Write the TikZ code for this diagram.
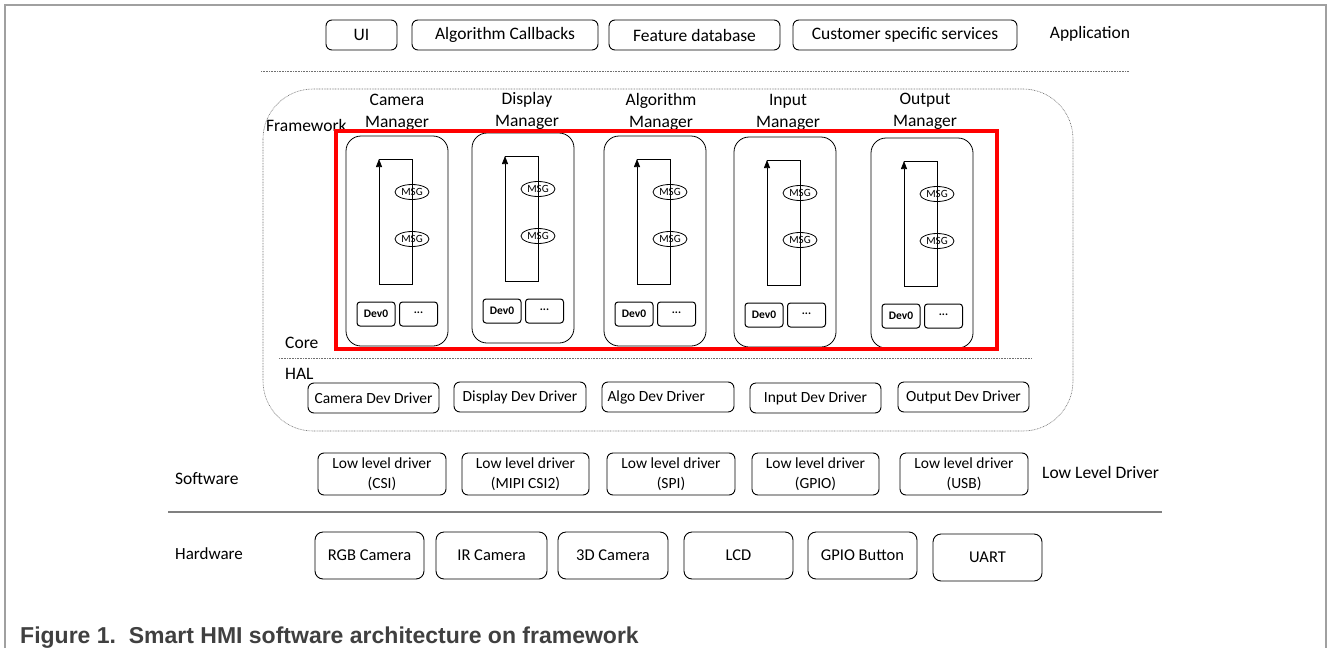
\documentclass[tikz,border=0pt]{standalone}
\usepackage{fontspec}
\setmainfont{Carlito}
\newfontfamily\capfont{Liberation Sans}
\usetikzlibrary{shapes.geometric,arrows.meta}
\definecolor{framegray}{HTML}{A0A0A0}
\definecolor{dotgray}{HTML}{707070}
\definecolor{capgray}{HTML}{404040}
\definecolor{hmired}{HTML}{FF0000}
\definecolor{rulegray}{HTML}{808080}
\newcommand\myfA{\fontsize{17.5}{22}\selectfont}
\newcommand\myfB{\fontsize{15.5}{20}\selectfont}
\newcommand\myfC{\fontsize{11}{13}\selectfont}
\newcommand\myfD{\fontsize{16.5}{20}\selectfont}
\newcommand\myfE{\bfseries\fontsize{11.5}{13}\selectfont}
\tikzset{
  box/.style={draw=black, line width=0.9pt, rounded corners=6pt, inner sep=0pt, align=center},
  appbox/.style={box, font=\myfA, minimum height=30pt},
  halbox/.style={box, font=\myfB, minimum height=30pt},
  llbox/.style={box, font=\myfB, minimum height=42pt, minimum width=128pt},
  hwbox/.style={box, rounded corners=8pt, font=\myfD, minimum height=47pt, minimum width=109pt},
  lbl/.style={font=\myfA, inner sep=0pt},
  modbox/.style={draw=black, line width=0.8pt, rounded corners=15pt},
  loopline/.style={draw=black, line width=0.7pt},
  looptip/.style={-{Triangle[length=8pt, width=6pt]}},
  msgnode/.style={ellipse, draw=black, line width=0.8pt, minimum width=34pt, minimum height=15pt, inner sep=0pt, font=\myfC},
  devnode/.style={draw=black, line width=1pt, rounded corners=3pt, minimum width=38pt, minimum height=24pt, inner sep=0pt, font=\myfE},
  dotline/.style={draw=dotgray, line width=0.6pt, dash pattern=on 0.8pt off 0.8pt}
}
\begin{document}
\begin{tikzpicture}[x=1pt, y=-1pt]
\useasboundingbox (0,0) rectangle (1328,648);
% outer frame
\coordinate (fbl) at (5,648);
\coordinate (ftl) at (5,5);
\coordinate (ftr) at (1326,5);
\coordinate (fbr) at (1326,648);
\draw[framegray, line width=1.5pt] (fbl) -- (ftl) -- (ftr) -- (fbr);

% application row
\node[appbox, minimum width=71pt] (ui) at (361.5,35) {UI};
\node[appbox, minimum width=186pt] (algcb) at (505,35) {Algorithm Callbacks};
\node[appbox, minimum width=171pt] (featdb) at (694.5,35) {Feature database};
\node[appbox, minimum width=224pt] (cust) at (905,35) {Customer specific services};
\node[lbl, anchor=base] (app) at (1090,38) {Application};

% dotted separator
\coordinate (d1a) at (261,71);
\coordinate (d1b) at (1129,71);
\draw[dotline] (d1a) -- (d1b);

% framework box
\draw[dotline, rounded corners=50pt] (263,89) rectangle (1073,431);
\node[lbl, anchor=base west] (fw) at (266,131) {Framework};

% manager labels
\node[lbl, align=center] (camlbl) at (397,112) {Camera\\Manager};
\node[lbl, align=center] (displbl) at (527,111) {Display\\Manager};
\node[lbl, align=center] (alglbl) at (661,112) {Algorithm\\Manager};
\node[lbl, align=center] (inlbl) at (788,112) {Input\\Manager};
\node[lbl, align=center] (outlbl) at (925,111) {Output\\Manager};

% managers
\foreach \nm/\mx/\my in {cam/346/136, disp/472/133, alg/604/136, inp/734/137, outp/871/138}{
  \draw[modbox] (\mx,\my) rectangle ++(102,210);
  \node[msgnode] (\nm m1) at (\mx+66,\my+56) {MSG};
  \node[msgnode] (\nm m2) at (\mx+66,\my+103) {MSG};
  \coordinate (\nm tl) at (\mx+33,\my+23);
  \coordinate (\nm tr) at (\mx+66,\my+23);
  \coordinate (\nm br) at (\mx+66,\my+148);
  \coordinate (\nm bl) at (\mx+33,\my+148);
  \draw[loopline, looptip] (\nm tl) -- (\nm tr) -- (\nm br) -- (\nm bl) -- (\nm tl);
  \node[devnode] (\nm d0) at (\mx+30,\my+178) {Dev0};
  \node[devnode] (\nm dx) at (\mx+72.5,\my+178) {\raisebox{0.28em}{...}};
}

% red highlight
\draw[hmired, line width=3.5pt] (336,131) rectangle (997,349);

\node[lbl, anchor=base west] (core) at (285,348) {Core};
\coordinate (d2a) at (279,358);
\coordinate (d2b) at (1032,358);
\draw[dotline] (d2a) -- (d2b);
\node[lbl, anchor=base west] (hal) at (285,379) {HAL};

% HAL drivers
\node[halbox, minimum width=131pt] (hcam) at (373.5,398) {Camera Dev Driver};
\node[halbox, minimum width=132pt] (hdisp) at (520,397) {Display Dev Driver};
\node[halbox, minimum width=132pt, text width=121pt, align=flush left, inner xsep=5.5pt] (halg) at (668,397) {Algo Dev Driver};
\node[halbox, minimum width=131pt] (hin) at (815.5,398) {Input Dev Driver};
\node[halbox, minimum width=131pt] (hout) at (963.5,397) {Output Dev Driver};

% low level drivers
\node[lbl, anchor=base west] (sw) at (175,484) {Software};
\node[llbox] (lcsi) at (382,474) {Low level driver\\(CSI)};
\node[llbox, minimum width=127pt] (lmipi) at (525.5,474) {Low level driver\\(MIPI CSI2)};
\node[llbox] (lspi) at (671,474) {Low level driver\\(SPI)};
\node[llbox, minimum width=127pt] (lgpio) at (815.5,474) {Low level driver\\(GPIO)};
\node[llbox] (lusb) at (964,474) {Low level driver\\(USB)};
\node[lbl, anchor=base west] (lld) at (1042,478) {Low Level Driver};

% hardware separator
\coordinate (hla) at (168,512);
\coordinate (hlb) at (1162,512);
\draw[rulegray, line width=1.5pt] (hla) -- (hlb);

% hardware
\node[lbl, anchor=base west, font=\fontsize{17}{20}\selectfont] (hw) at (175,559) {Hardware};
\node[hwbox] (rgb) at (369.5,555.5) {RGB Camera};
\node[hwbox, minimum width=111pt] (ir) at (491.5,555.5) {IR Camera};
\node[hwbox, minimum width=110pt] (cam3d) at (613,555.5) {3D Camera};
\node[hwbox] (lcd) at (738.5,555.5) {LCD};
\node[hwbox] (gpio) at (862.5,555.5) {GPIO Button};
\node[hwbox] (uart) at (987.5,557.5) {UART};

% caption
\node[anchor=base west, inner sep=0pt, text=capgray, font=\capfont\bfseries\fontsize{23}{26}\selectfont] (cap) at (20,643) {Figure 1.\hspace{0.556em}Smart HMI software architecture on framework};
\end{tikzpicture}
\end{document}
